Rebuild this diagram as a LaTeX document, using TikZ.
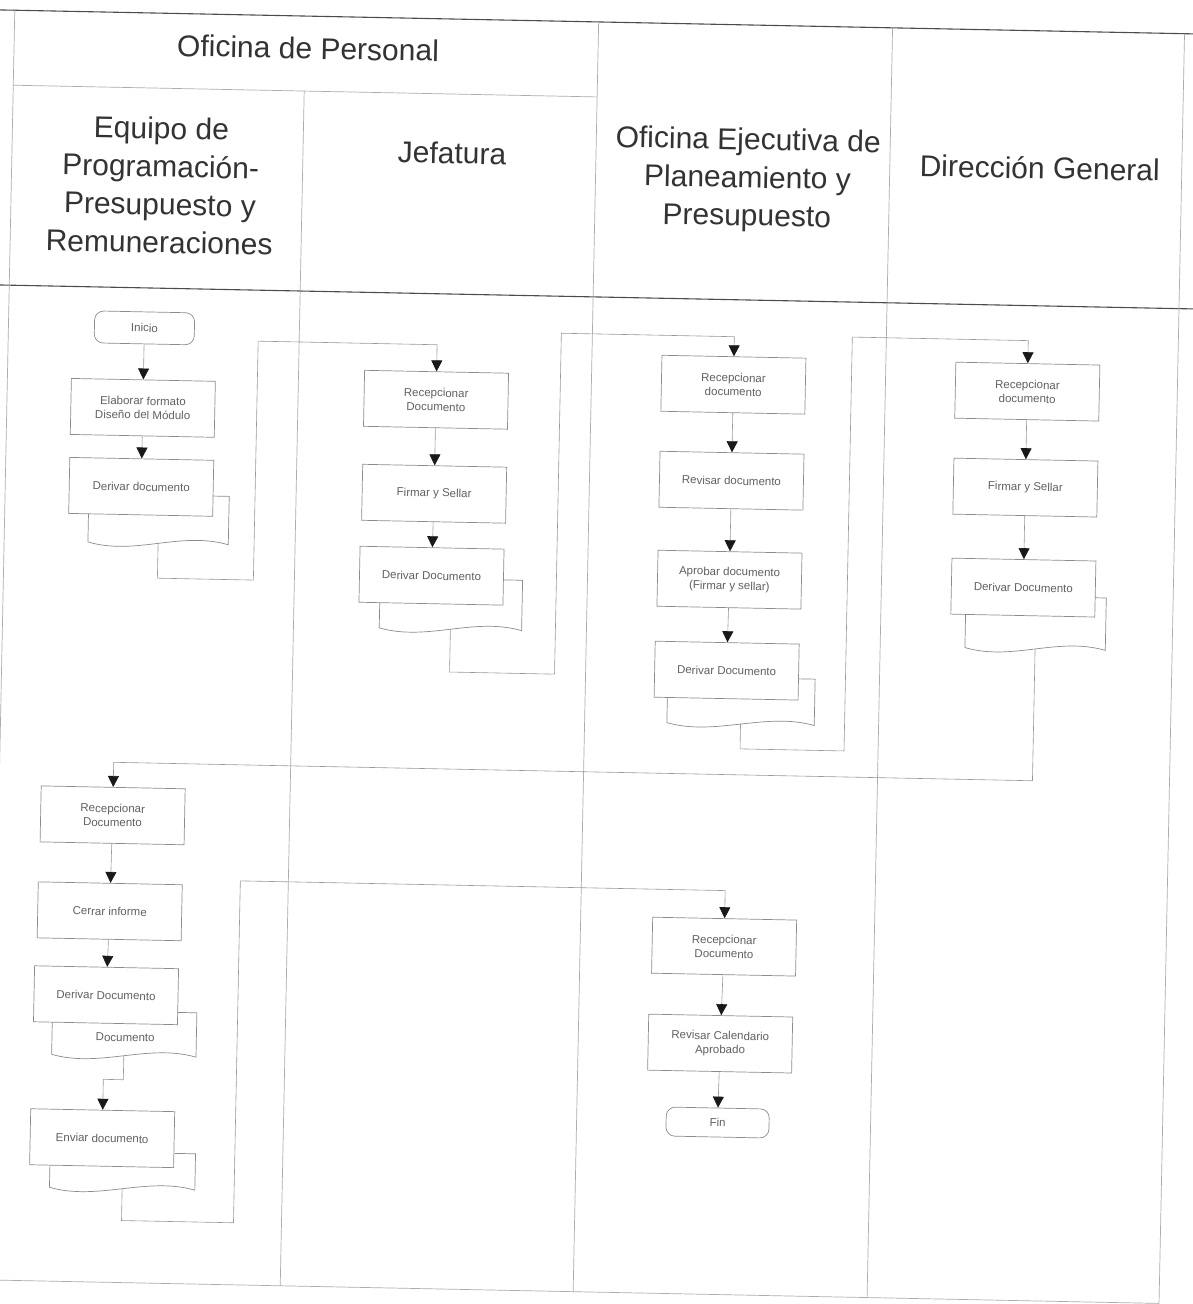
\documentclass[tikz,border=0pt]{standalone}
\usepackage{fontspec}
\setmainfont{Liberation Sans}
\usetikzlibrary{arrows.meta}

% outline of a document symbol: straight top and sides, wavy bottom
\newcommand\docoutline[1]{%
  \draw[docline] (#1.north west) -- (#1.south west)
    .. controls +(48,13) and +(-48,-13) .. (#1.south east)
    -- (#1.north east) -- cycle;}

\begin{document}
\begin{tikzpicture}[x=1pt,y=-1pt,
  border/.style={draw=black!70,line width=1.1pt},
  lane/.style={draw=black!32,line width=0.7pt},
  head/.style={font=\fontsize{30}{38}\selectfont,text=black!80,align=center},
  proc/.style={draw=black!45,line width=0.7pt,fill=white,minimum width=144pt,
    minimum height=56pt,inner sep=2pt,font=\fontsize{11.5}{14}\selectfont,
    text=black!62,align=center},
  term/.style={proc,rounded corners=9pt,minimum width=100pt,minimum height=32pt},
  docbase/.style={draw=none,inner sep=0pt},
  docline/.style={draw=black!45,line width=0.7pt,fill=white},
  doctext/.style={font=\fontsize{11.5}{14}\selectfont,text=black!62,inner sep=1pt},
  flow/.style={draw=black!40,line width=0.6pt,
    -{Triangle[width=11pt,length=11pt,color=black!90]}},
]
\useasboundingbox[fill=white] (0,0) rectangle (1193,1304);

\begin{scope}[rotate around={-1.15:(596,652)},transform shape]

% ---------- frame and swimlanes ----------
\draw[border] (-30,22) -- (1230,22);
\draw[lane] (2,97) -- (586,97);
\draw[border] (-30,297) -- (1230,297);
\draw[lane] (2,22) -- (2,1292);
\draw[lane] (293,97) -- (293,1292);
\draw[lane] (586,22) -- (586,1292);
\draw[lane] (880,22) -- (880,1292);
\draw[lane] (1172,22) -- (1172,1292);
\draw[lane] (2,1292) -- (1172,1292);

% ---------- lane headers ----------
\node[head] (hOP)  at (296,54)  {Oficina de Personal};
\node[head] (hEq)  at (151,194) {Equipo de\\Programación-\\Presupuesto y\\Remuneraciones};
\node[head] (hJef) at (442,156) {Jefatura};
\node[head] (hOE)  at (738,177) {Oficina Ejecutiva de\\Planeamiento y\\Presupuesto};
\node[head] (hDG)  at (1030,159) {Dirección General};

% ---------- Equipo de Programación (first pass) ----------
\node[term] (n0) at (138,337) {Inicio};
\node[proc] (n1) at (138,417) {Elaborar formato\\Diseño del Módulo};
\node[docbase,minimum width=140pt,minimum height=48pt] (d1) at (156,528) {};
\docoutline{d1}
\node[proc] (n2) at (138,496) {Derivar documento};

% ---------- Jefatura ----------
\node[proc] (j1) at (431,403) {Recepcionar\\Documento};
\node[proc] (j2) at (431,497) {Firmar y Sellar};
\node[docbase,minimum width=142pt,minimum height=50pt] (dj) at (450,607) {};
\docoutline{dj}
\node[proc] (j3) at (430,579) {Derivar Documento};

% ---------- Oficina Ejecutiva de Planeamiento y Presupuesto ----------
\node[proc] (o1) at (728,382) {Recepcionar\\documento};
\node[proc] (o2) at (728,478) {Revisar documento};
\node[proc] (o3) at (728,577) {Aprobar documento\\(Firmar y sellar)};
\node[docbase,minimum width=147pt,minimum height=46pt] (do) at (742,698) {};
\docoutline{do}
\node[proc] (o4) at (727,668) {Derivar Documento};

% ---------- Dirección General ----------
\node[proc] (g1) at (1022,383) {Recepcionar\\documento};
\node[proc] (g2) at (1022,479) {Firmar y Sellar};
\node[docbase,minimum width=140pt,minimum height=52pt] (dg) at (1035,614) {};
\docoutline{dg}
\node[proc] (g3) at (1022,579) {Derivar Documento};

% ---------- Equipo de Programación (second pass) ----------
\node[proc] (l1) at (116,825) {Recepcionar\\Documento};
\node[proc] (l2) at (115,921) {Cerrar informe};
\node[docbase,minimum width=144pt,minimum height=44pt] (dl) at (132,1043) {};
\docoutline{dl}
\node[doctext] (dltxt) at (133,1047) {Documento};
\node[proc] (l3) at (113,1005) {Derivar Documento};
\node[docbase,minimum width=145pt,minimum height=36pt] (dm) at (133,1180) {};
\docoutline{dm}
\node[proc] (l4) at (112,1148) {Enviar documento};

% ---------- Oficina Ejecutiva (closing) ----------
\node[proc] (p1) at (730,944) {Recepcionar\\Documento};
\node[proc] (p2) at (728,1041) {Revisar Calendario\\Aprobado};
\node[term,minimum width=103pt,minimum height=29pt] (p3) at (727,1120) {Fin};

% ---------- bend points of the hand-offs between lanes ----------
\coordinate (k1a) at (252,587);
\coordinate (k1b) at (252,348);
\coordinate (k2a) at (555,675);
\coordinate (k2b) at (555,334);
\coordinate (k3a) at (846,746);
\coordinate (k3b) at (846,332);
\coordinate (k4)  at (1035,772);
\coordinate (k6a) at (245,1230);
\coordinate (k6b) at (245,888);

% ---------- flow ----------
\draw[flow] (n0) -- (n1);
\draw[flow] (n1) -- (n2);
\draw[flow] (d1.south) |- (k1a) -- (k1b) -| (j1.north);
\draw[flow] (j1) -- (j2);
\draw[flow] (j2) -- (j3);
\draw[flow] (dj.south) |- (k2a) -- (k2b) -| (o1.north);
\draw[flow] (o1) -- (o2);
\draw[flow] (o2) -- (o3);
\draw[flow] (o3) -- (o4);
\draw[flow] (do.south) |- (k3a) -- (k3b) -| (g1.north);
\draw[flow] (g1) -- (g2);
\draw[flow] (g2) -- (g3);
\draw[flow] (dg.south) -- (k4) -| (l1.north);
\draw[flow] (l1) -- (l2);
\draw[flow] (l2) -- (l3);
\draw[flow] (dl.south) -- ++(0,24) -| (l4.north);
\draw[flow] (dm.south) |- (k6a) -- (k6b) -| (p1.north);
\draw[flow] (p1) -- (p2);
\draw[flow] (p2) -- (p3);

\end{scope}
\end{tikzpicture}
\end{document}
